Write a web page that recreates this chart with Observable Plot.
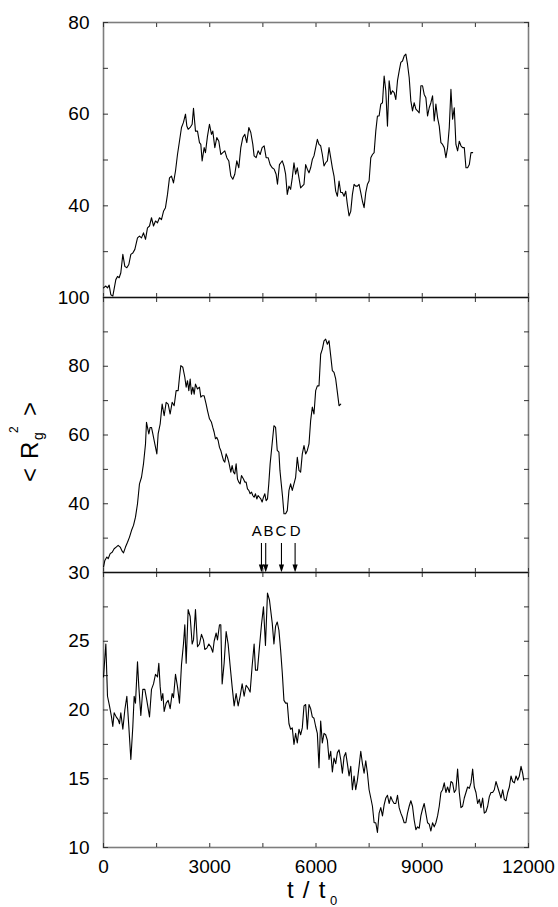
<!DOCTYPE html>
<html><head><meta charset="utf-8">
<script src="https://cdn.jsdelivr.net/npm/d3@7"></script>
<script src="https://cdn.jsdelivr.net/npm/@observablehq/plot@0.6"></script>
<style>
html,body{margin:0;padding:0;background:#fff;}
#chart{position:relative;width:558px;height:907px;overflow:hidden;font-family:"Liberation Sans",Arial,Helvetica,sans-serif;}
#chart .panel{position:absolute;left:0;}
#overlay{position:absolute;left:0;top:0;pointer-events:none;}
</style></head><body>
<div id="chart"></div>
<script>
// ---------- data ----------
const xDomain = [0, 12000];
const xMajorTicks = [0, 3000, 6000, 9000, 12000];
const xMinorStep = 1500;

const yDomain1 = [20, 80];
const yLabels1 = [40, 60, 80];
const yDomain2 = [20, 100];
const yLabels2 = [40, 60, 80, 100];
const yDomain3 = [10, 30];
const yLabels3 = [10, 15, 20, 25, 30];

// panel 1: [t / t0, <Rg^2>]
const series1 = [[0,22.1],[66,22.5],[113,22.1],[160,22.7],[207,20.6],[263,20.3],[348,23.9],[395,24.6],[442,24.3],[489,25.4],[546,29.4],[602,26.8],[659,26.5],[715,27.2],[772,29.4],[828,29.7],[885,30.5],[960,33.0],[1016,33.4],[1073,33.0],[1129,34.1],[1186,32.7],[1242,35.2],[1299,35.6],[1355,37.4],[1412,35.6],[1468,36.7],[1524,36.3],[1581,37.4],[1637,37.0],[1694,38.8],[1750,39.6],[1807,42.5],[1863,46.1],[1920,46.5],[1976,45.0],[2033,47.6],[2089,51.2],[2145,54.1],[2202,57.1],[2258,58.2],[2315,60.0],[2353,57.4],[2390,56.7],[2447,57.1],[2503,57.8],[2541,61.3],[2597,56.3],[2654,56.3],[2710,53.8],[2748,53.4],[2785,49.8],[2842,52.7],[2879,51.6],[2936,55.2],[2992,57.8],[3049,55.6],[3086,56.3],[3143,52.7],[3199,54.9],[3256,54.1],[3312,51.2],[3369,51.6],[3425,52.0],[3482,50.5],[3538,49.8],[3595,46.5],[3651,45.8],[3707,46.9],[3764,49.8],[3820,48.3],[3877,52.7],[3933,54.9],[3990,55.6],[4046,53.8],[4103,57.1],[4159,56.0],[4216,53.4],[4253,50.9],[4310,50.5],[4366,52.0],[4423,51.2],[4479,52.7],[4536,53.1],[4592,50.5],[4649,50.5],[4705,49.0],[4762,48.3],[4818,48.0],[4874,46.9],[4912,44.7],[4968,49.0],[5006,49.4],
[5048,49.8],[5095,48.7],[5142,46.9],[5189,42.5],[5237,44.3],[5283,43.6],[5330,46.1],[5378,49.4],[5425,46.9],[5472,48.3],[5519,46.1],[5566,43.9],[5613,44.3],[5661,44.7],[5708,49.0],[5755,48.0],[5802,47.2],[5849,48.3],[5896,50.1],[5943,50.9],[5991,52.7],[6038,54.5],[6085,53.4],[6132,53.1],[6179,51.2],[6226,48.7],[6273,49.4],[6321,49.8],[6368,52.7],[6415,50.5],[6462,48.3],[6509,46.5],[6556,43.2],[6604,42.1],[6651,45.4],[6698,42.9],[6745,42.9],[6792,42.1],[6839,43.2],[6886,40.3],[6934,37.8],[6981,38.8],[7028,42.5],[7075,44.7],[7122,44.3],[7169,44.3],[7216,44.7],[7264,42.9],[7311,41.0],[7358,39.6],[7405,42.9],[7452,44.7],[7499,45.4],[7547,50.5],[7594,51.2],[7641,51.6],[7688,56.3],[7735,59.6],[7782,59.6],[7829,62.2],[7877,62.5],[7924,68.3],[7971,65.1],[8018,57.4],[8065,67.3],[8112,64.3],[8159,65.1],[8207,64.7],[8254,63.2],[8301,67.3],[8348,69.4],[8395,71.3],[8442,71.6],[8490,72.7],[8537,73.1],[8584,70.9],[8631,68.0],[8678,62.9],[8725,60.7],[8772,62.5],[8820,61.1],[8867,60.7],[8914,60.3],[8961,66.2],[9008,66.2],[9055,64.3],[9102,63.6],[9150,59.6],[9197,61.4],[9244,62.5],[9291,64.0],[9338,58.5],[9385,62.2],[9433,59.2],[9480,57.4],[9527,53.8],[9574,53.4],[9621,52.7],[9668,50.5],[9715,52.7],[9763,57.1],[9810,65.4],[9857,58.9],[9904,61.4],[9951,53.4],[9998,52.0],[10046,54.1],[10093,53.1],[10140,52.7],[10187,52.7],[10234,48.3],[10281,48.3],[10329,49.0],[10376,51.6],[10423,51.6]];

// panel 2
const series2 = [[0,21.6],[38,23.5],[94,24.5],[132,24.0],[188,25.5],[245,25.9],[301,26.9],[358,27.4],[414,27.9],[471,27.4],[527,26.2],[565,25.7],[621,27.4],[678,28.8],[734,30.3],[790,32.2],[847,33.7],[903,36.1],[960,40.0],[1016,45.8],[1073,47.7],[1129,51.6],[1186,57.4],[1214,63.7],[1242,62.2],[1280,60.3],[1317,62.2],[1355,62.2],[1393,60.3],[1449,57.4],[1506,54.5],[1543,60.3],[1600,63.2],[1656,69.0],[1713,65.6],[1769,69.5],[1826,69.0],[1882,66.1],[1938,69.5],[1995,68.5],[2051,72.9],[2108,72.9],[2145,76.8],[2183,80.2],[2240,79.7],[2296,76.8],[2334,73.9],[2371,75.8],[2409,72.9],[2447,76.3],[2484,71.9],[2522,73.9],[2560,71.9],[2597,74.8],[2654,73.4],[2710,73.9],[2748,71.0],[2785,71.4],[2842,71.4],[2898,69.0],[2936,67.1],[2992,64.7],[3049,63.7],[3086,62.2],[3124,60.8],[3162,58.9],[3199,59.3],[3237,58.4],[3275,56.4],[3312,55.5],[3350,54.0],[3388,52.6],[3425,52.1],[3463,54.5],[3501,53.5],[3538,52.1],[3595,49.2],[3632,51.1],[3670,49.2],[3707,48.7],[3745,51.6],[3783,47.2],[3820,46.3],[3858,45.8],[3896,48.2],[3952,47.2],[3990,46.3],[4027,46.3],[4065,44.3],[4103,43.9],[4140,42.9],[4178,43.4],[4216,42.4],[4253,41.9],[4291,42.9],[4329,41.4],[4366,42.4],[4404,41.9],[4442,41.4],[4479,40.5],[4517,41.9],[4555,42.9],[4592,40.9],[4630,41.4],[4667,45.8],[4705,51.6],
[4812,62.7],[4859,62.2],[4906,55.5],[4953,55.0],[4982,49.7],[5019,45.8],[5057,41.9],[5095,37.1],[5142,37.1],[5189,38.0],[5237,43.9],[5283,45.8],[5330,43.9],[5378,45.8],[5425,47.7],[5472,53.5],[5519,49.7],[5566,49.2],[5613,54.5],[5661,56.9],[5708,54.5],[5755,55.5],[5802,57.4],[5849,64.2],[5896,68.1],[5943,66.1],[5991,72.9],[6038,74.3],[6085,74.3],[6132,83.5],[6179,85.0],[6226,87.4],[6273,87.9],[6321,86.4],[6368,87.4],[6415,83.1],[6462,78.7],[6509,78.2],[6556,76.3],[6604,72.4],[6651,68.5],[6698,69.0]];

// panel 3
const series3 = [[0,22.4],[66,24.8],[113,21.0],[169,20.3],[226,19.5],[263,18.8],[301,19.8],[358,19.5],[414,19.3],[452,19.0],[489,19.8],[546,18.6],[602,20.0],[659,21.0],[715,18.8],[772,16.4],[828,18.8],[866,21.0],[903,20.5],[960,23.5],[997,21.7],[1054,19.6],[1110,21.5],[1167,21.5],[1223,20.7],[1299,19.5],[1355,21.5],[1412,21.9],[1468,22.6],[1524,22.4],[1562,23.4],[1600,21.7],[1637,20.7],[1675,21.2],[1713,19.9],[1769,20.5],[1826,20.7],[1882,20.1],[1938,21.2],[1976,20.9],[2033,22.6],[2089,21.7],[2145,20.5],[2202,23.3],[2258,24.8],[2296,26.2],[2334,23.4],[2390,27.3],[2447,26.8],[2503,24.8],[2541,25.1],[2597,27.3],[2654,24.6],[2710,24.8],[2767,25.5],[2823,25.1],[2861,24.4],[2917,24.5],[2974,24.8],[3030,24.6],[3086,24.2],[3124,25.0],[3181,25.6],[3218,25.1],[3275,26.2],[3312,26.2],[3350,21.9],[3406,23.4],[3463,25.7],[3519,24.8],[3576,23.2],[3632,21.7],[3689,20.3],[3745,21.2],[3802,20.3],[3858,21.0],[3915,21.9],[3971,21.0],[4027,21.8],[4084,21.6],[4140,21.3],[4197,23.2],[4253,24.8],[4291,22.9],[4347,22.9],[4404,24.6],[4460,26.2],[4517,27.5],[4573,24.7],[4630,28.5],[4686,28.0],
[4765,26.3],[4812,24.8],[4859,26.1],[4906,26.4],[4953,25.8],[5000,24.4],[5048,22.7],[5095,20.7],[5142,20.5],[5189,20.5],[5237,19.0],[5283,18.6],[5330,18.7],[5378,17.5],[5425,18.3],[5472,17.6],[5519,18.6],[5566,18.2],[5613,18.7],[5661,20.3],[5708,20.4],[5755,18.6],[5802,20.4],[5849,20.1],[5896,19.5],[5943,19.4],[5991,18.8],[6038,18.3],[6085,15.8],[6132,19.2],[6179,17.6],[6226,18.3],[6273,18.2],[6321,17.8],[6368,16.4],[6415,17.0],[6462,15.5],[6509,16.5],[6556,16.1],[6604,16.9],[6651,17.1],[6698,16.4],[6745,15.4],[6792,16.6],[6839,16.9],[6886,16.1],[6934,15.2],[6981,15.9],[7028,14.2],[7075,15.2],[7122,14.2],[7169,14.9],[7216,15.9],[7264,17.0],[7311,16.1],[7358,15.4],[7405,16.3],[7452,15.4],[7499,14.2],[7547,13.6],[7594,13.0],[7641,11.8],[7688,11.8],[7735,11.1],[7782,12.5],[7829,12.9],[7877,12.3],[7924,13.1],[7971,13.6],[8018,13.8],[8065,13.2],[8112,13.7],[8159,13.4],[8207,13.2],[8254,13.2],[8301,13.8],[8348,12.9],[8395,12.5],[8442,12.2],[8490,11.8],[8537,11.8],[8584,12.5],[8631,13.0],[8678,13.4],[8725,13.0],[8772,12.0],[8820,11.3],[8867,11.5],[8914,11.4],[8961,12.3],[9008,12.8],[9055,13.2],[9102,12.5],[9150,11.8],[9197,11.7],[9244,11.2],[9291,11.8],[9338,11.5],[9385,11.8],[9433,12.3],[9480,13.0],[9527,14.0],[9574,14.2],[9621,14.7],[9668,14.0],[9715,14.4],[9763,14.0],[9810,14.8],[9857,14.7],[9904,14.0],[9951,14.2],[9998,15.7],[10046,14.0],[10093,12.9],[10140,13.0],[10187,13.6],[10234,14.0],[10281,14.4],[10329,14.3],[10376,14.7],[10423,15.7],[10469,14.4],[10517,14.0],[10564,13.2],[10611,13.5],[10658,12.9],[10705,13.6],[10752,12.5],[10799,12.6],[10847,13.0],[10894,13.7],[10941,14.0],[10988,14.0],[11035,14.2],[11082,14.8],[11129,14.4],[11176,14.0],[11224,13.6],[11271,14.2],[11318,13.5],[11365,13.4],[11412,14.0],[11459,14.4],[11506,15.2],[11553,14.8],[11601,14.7],[11648,15.2],[11695,14.9],[11742,15.2],[11789,15.9],[11836,15.4],[11865,14.9]];

// arrows marking events A-D (panel 2)
const arrowLabels = ["A", "B", "C", "D"];
const arrowT = [4460, 4580, 5025, 5410];
const arrowLabelT = [4330, 4660, 5010, 5415];

// ---------- drawing ----------
const FONT = '"Liberation Sans", Arial, Helvetica, sans-serif';
const W = 558, ML = 103, MR = 30;
const chart = document.getElementById("chart");
const xMinor = d3.range(xDomain[0], xDomain[1] + 1, xMinorStep);
const blank = () => "";

const headSymbol = {
  draw(context) {
    context.moveTo(0, 0);
    context.lineTo(-2.6, -8);
    context.lineTo(2.6, -8);
    context.closePath();
  }
};

function panel({data, domain, minorStep, labels, top, height, mt, mb, topRule, bottomRule, xLabels, extra = []}) {
  const yMinor = d3.range(domain[0], domain[1] + 1e-9, minorStep);
  const marks = [
    Plot.frame({stroke: "#7d7d7d", strokeWidth: 1.6}),
    Plot.axisY(yMinor, {anchor: "left", tickSize: -5, tickFormat: blank, label: null, stroke: "#333"}),
    Plot.axisY(yMinor, {anchor: "right", tickSize: -5, tickFormat: blank, label: null, stroke: "#333"}),
    Plot.axisY(labels, {anchor: "left", tickSize: 0, tickPadding: 14, label: null, tickFormat: d => String(d)}),
    Plot.axisX(xMinor, {anchor: "top", tickSize: -4, tickFormat: blank, label: null, stroke: "#333"}),
    Plot.axisX(xMinor, {anchor: "bottom", tickSize: -4, tickFormat: blank, label: null, stroke: "#333"})
  ];
  if (xLabels) marks.push(Plot.axisX(xLabels, {anchor: "bottom", tickSize: 0, tickPadding: 12, label: null, tickFormat: d => String(d)}));
  if (topRule) marks.push(Plot.ruleY([domain[1]], {stroke: "#111", strokeWidth: 1.2}));
  if (bottomRule) marks.push(Plot.ruleY([domain[0]], {stroke: "#111", strokeWidth: 1.2}));
  marks.push(Plot.line(data, {x: d => d[0], y: d => d[1], stroke: "#000", strokeWidth: 1.1}));
  marks.push(...extra);
  const svg = Plot.plot({
    width: W, height,
    marginLeft: ML, marginRight: MR, marginTop: mt, marginBottom: mb,
    x: {domain: xDomain},
    y: {domain},
    style: {background: "transparent", overflow: "visible", fontFamily: FONT, fontSize: "19px", color: "#000"},
    marks
  });
  const wrap = document.createElement("div");
  wrap.className = "panel";
  wrap.style.top = top + "px";
  wrap.appendChild(svg);
  chart.appendChild(wrap);
}

const arrowMarks = [
  Plot.ruleX(arrowT, {x: d => d, insetTop: 246, insetBottom: 6, stroke: "#000", strokeWidth: 1.1}),
  Plot.dot(arrowT, {x: d => d, frameAnchor: "bottom", symbol: headSymbol, fill: "#000", stroke: "none"}),
  Plot.text(arrowLabels, {x: (d, i) => arrowLabelT[i], text: d => d, frameAnchor: "bottom", dy: -37, fontSize: 15, fill: "#000"})
];

panel({data: series1, domain: yDomain1, minorStep: 10, labels: yLabels1, top: 0, height: 310, mt: 22, mb: 13, topRule: false, bottomRule: true});
panel({data: series2, domain: yDomain2, minorStep: 10, labels: yLabels2, top: 284, height: 301, mt: 13, mb: 13, topRule: true, bottomRule: true, extra: arrowMarks});
panel({data: series3, domain: yDomain3, minorStep: 2.5, labels: yLabels3, top: 559, height: 348, mt: 13, mb: 60, topRule: true, bottomRule: false, xLabels: xMajorTicks});

// axis titles
const ov = d3.create("svg").attr("id", "overlay").attr("width", W).attr("height", 907)
  .style("font-family", FONT).style("overflow", "visible");
const yl = ov.append("g").attr("transform", "translate(38,440) rotate(-90)");
yl.append("text").attr("x", -42).attr("y", 0).attr("font-size", 24).text("<");
yl.append("text").attr("x", -19).attr("y", 0).attr("font-size", 24).text("R");
yl.append("text").attr("x", 0).attr("y", 5).attr("font-size", 14).text("g");
yl.append("text").attr("x", 7).attr("y", -20).attr("font-size", 12).text("2");
yl.append("text").attr("x", 24).attr("y", 0).attr("font-size", 24).text(">");
const xl = ov.append("g");
xl.append("text").attr("x", 287).attr("y", 898).attr("font-size", 24).attr("word-spacing", 2.5)
  .attr("xml:space", "preserve").text("t / t");
xl.append("text").attr("x", 330).attr("y", 905).attr("font-size", 13).text("0");
chart.appendChild(ov.node());
</script>
</body></html>
